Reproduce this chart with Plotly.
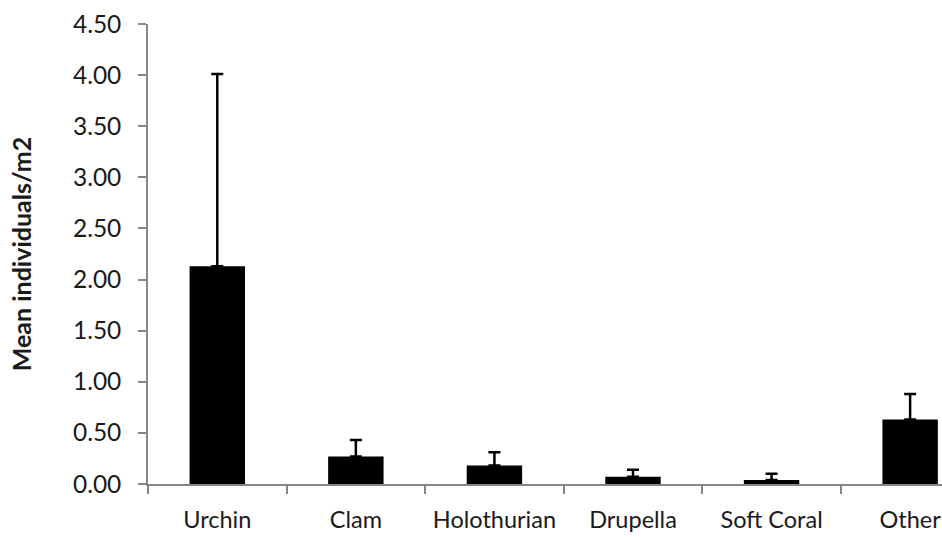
import plotly.graph_objects as go

categories = ["Urchin", "Clam", "Holothurian", "Drupella", "Soft Coral", "Other"]
means = [2.13, 0.27, 0.18, 0.07, 0.04, 0.63]
errors = [1.88, 0.16, 0.13, 0.07, 0.06, 0.25]
y_ticks = [0, 0.5, 1.0, 1.5, 2.0, 2.5, 3.0, 3.5, 4.0, 4.5]
y_tick_labels = ["0.00", "0.50", "1.00", "1.50", "2.00", "2.50", "3.00", "3.50", "4.00", "4.50"]

axis_gray = "#868686"
font_family = "Lato, 'Open Sans', sans-serif"

fig = go.Figure(
    go.Bar(
        x=categories,
        y=means,
        width=0.40,
        marker=dict(color="black", line=dict(width=0)),
        error_y=dict(
            type="data",
            symmetric=False,
            array=errors,
            arrayminus=[0] * len(errors),
            color="black",
            thickness=2.5,
            width=6,
        ),
    )
)

fig.update_layout(
    width=942,
    height=537,
    margin=dict(l=148, r=0, t=24, b=53),
    plot_bgcolor="white",
    paper_bgcolor="white",
    showlegend=False,
    font=dict(family=font_family, color="#1a1a1a"),
)

fig.update_xaxes(
    range=[-0.5, 5.23],
    automargin=False,
    showline=True,
    linecolor=axis_gray,
    linewidth=1.5,
    ticks="outside",
    tickson="boundaries",
    ticklen=8,
    tickcolor=axis_gray,
    tickwidth=1.5,
    showgrid=False,
    tickfont=dict(size=23.5, family=font_family, color="#1a1a1a"),
    ticklabelstandoff=14,
)

fig.update_yaxes(
    range=[0, 4.5],
    automargin=False,
    tickvals=y_ticks,
    ticktext=y_tick_labels,
    showline=True,
    linecolor=axis_gray,
    linewidth=1.5,
    ticks="outside",
    ticklen=8,
    tickcolor=axis_gray,
    tickwidth=1.5,
    showgrid=False,
    zeroline=False,
    tickfont=dict(size=24.5, family=font_family, color="#1a1a1a"),
    ticklabelstandoff=12,
    title=dict(
        text="<b>Mean individuals/m2</b>",
        font=dict(size=25, family=font_family, color="#1a1a1a"),
        standoff=34,
    ),
)

fig.write_html(
    "out.html",
    config={"displayModeBar": False},
    post_script="document.body.style.margin='0px';",
)
